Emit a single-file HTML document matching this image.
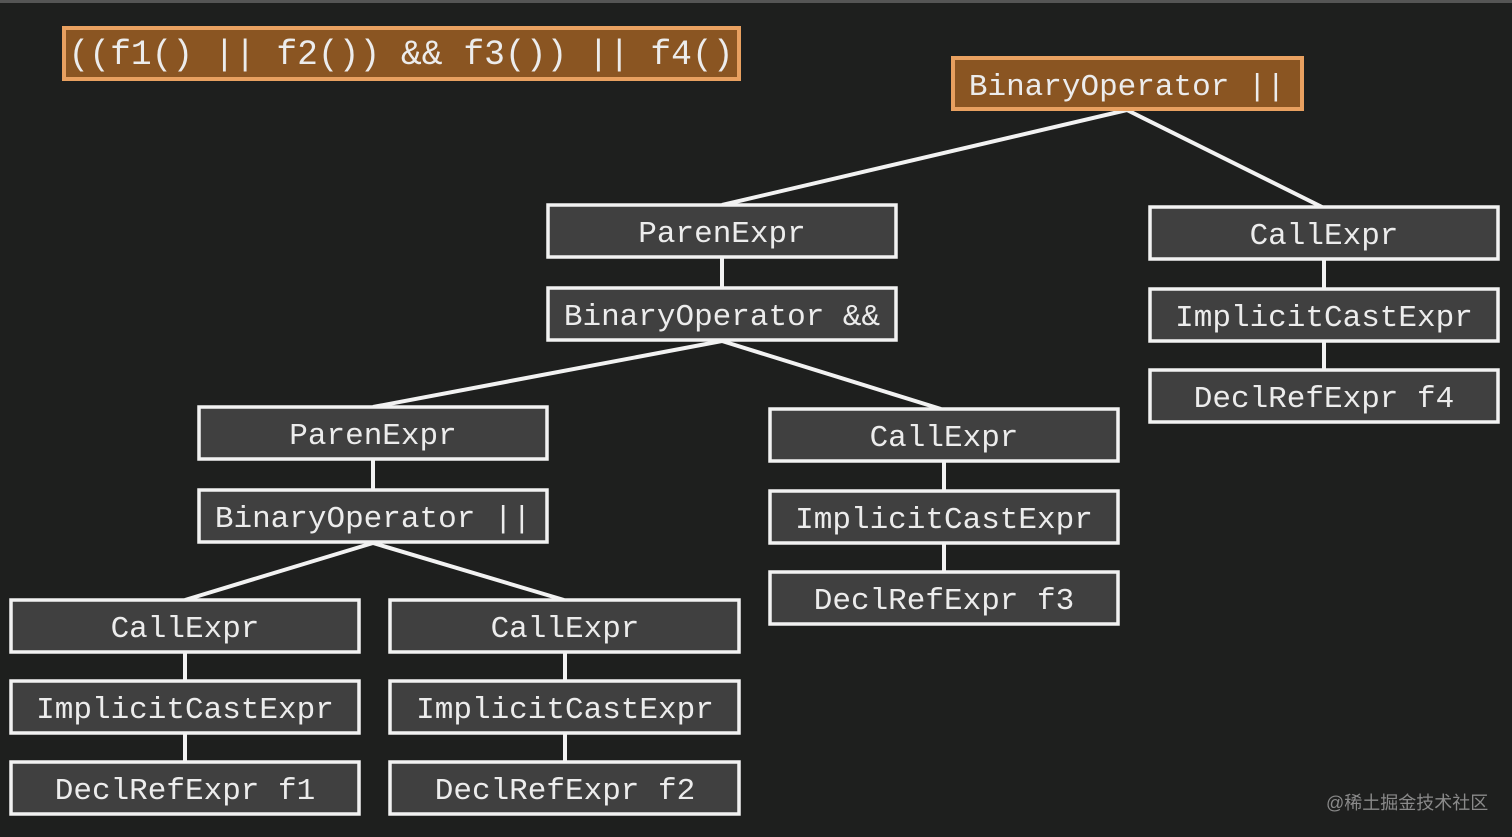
<!DOCTYPE html>
<html><head><meta charset="utf-8"><style>
html,body{margin:0;padding:0;background:#1f201f;}
svg{display:block}
text{font-family:"Liberation Mono",monospace;fill:#ececec;}
</style></head><body>
<svg width="1512" height="837" viewBox="0 0 1512 837" xmlns="http://www.w3.org/2000/svg">
<rect width="1512" height="837" fill="#1e1f1e"/>
<rect width="1512" height="3" fill="#555"/>
<g stroke="#f2f2f2" stroke-width="4" fill="none">
<line x1="1127" y1="110" x2="722" y2="205"/>
<line x1="1127" y1="110" x2="1322" y2="207"/>
<line x1="722" y1="258" x2="722" y2="288"/>
<line x1="722" y1="341" x2="373" y2="407"/>
<line x1="722" y1="341" x2="941" y2="409"/>
<line x1="1324" y1="260" x2="1324" y2="289"/>
<line x1="1324" y1="342" x2="1324" y2="370"/>
<line x1="373" y1="460" x2="373" y2="490"/>
<line x1="373" y1="543" x2="185" y2="600"/>
<line x1="373" y1="543" x2="564" y2="600"/>
<line x1="944" y1="462" x2="944" y2="491"/>
<line x1="944" y1="544" x2="944" y2="572"/>
<line x1="185" y1="653" x2="185" y2="681"/>
<line x1="185" y1="734" x2="185" y2="762"/>
<line x1="565" y1="653" x2="565" y2="681"/>
<line x1="565" y1="734" x2="565" y2="762"/>
</g>
<g fill="#8a5522" stroke="#e8a060" stroke-width="4">
<rect x="64" y="28" width="675" height="51"/>
<rect x="953" y="58" width="349" height="51"/>
</g>
<g fill="#404040" stroke="#f2f2f2" stroke-width="3.5">
<rect x="548" y="205" width="348" height="52"/>
<rect x="548" y="288" width="348" height="52"/>
<rect x="1150" y="207" width="348" height="52"/>
<rect x="1150" y="289" width="348" height="52"/>
<rect x="1150" y="370" width="348" height="52"/>
<rect x="199" y="407" width="348" height="52"/>
<rect x="199" y="490" width="348" height="52"/>
<rect x="770" y="409" width="348" height="52"/>
<rect x="770" y="491" width="348" height="52"/>
<rect x="770" y="572" width="348" height="52"/>
<rect x="11" y="600" width="348" height="52"/>
<rect x="11" y="681" width="348" height="52"/>
<rect x="11" y="762" width="348" height="52"/>
<rect x="390" y="600" width="349" height="52"/>
<rect x="390" y="681" width="349" height="52"/>
<rect x="390" y="762" width="349" height="52"/>
</g>
<g font-size="31" text-anchor="middle">
<text x="401" y="64" font-size="35" textLength="665" lengthAdjust="spacingAndGlyphs" fill="#fbe8d0">((f1() || f2()) &amp;&amp; f3()) || f4()</text>
<text x="1127" y="95" fill="#fbe8d0">BinaryOperator ||</text>
<text x="722" y="242">ParenExpr</text>
<text x="722" y="325">BinaryOperator &amp;&amp;</text>
<text x="1324" y="244">CallExpr</text>
<text x="1324" y="326">ImplicitCastExpr</text>
<text x="1324" y="407">DeclRefExpr f4</text>
<text x="373" y="444">ParenExpr</text>
<text x="373" y="527">BinaryOperator ||</text>
<text x="944" y="446">CallExpr</text>
<text x="944" y="528">ImplicitCastExpr</text>
<text x="944" y="609">DeclRefExpr f3</text>
<text x="185" y="637">CallExpr</text>
<text x="185" y="718">ImplicitCastExpr</text>
<text x="185" y="799">DeclRefExpr f1</text>
<text x="565" y="637">CallExpr</text>
<text x="565" y="718">ImplicitCastExpr</text>
<text x="565" y="799">DeclRefExpr f2</text>
</g>
<text x="1326" y="809" font-size="18" style="font-family:'Liberation Sans','Noto Sans CJK SC',sans-serif;fill:#8a8a8a">@稀土掘金技术社区</text>
</svg>
</body></html>
